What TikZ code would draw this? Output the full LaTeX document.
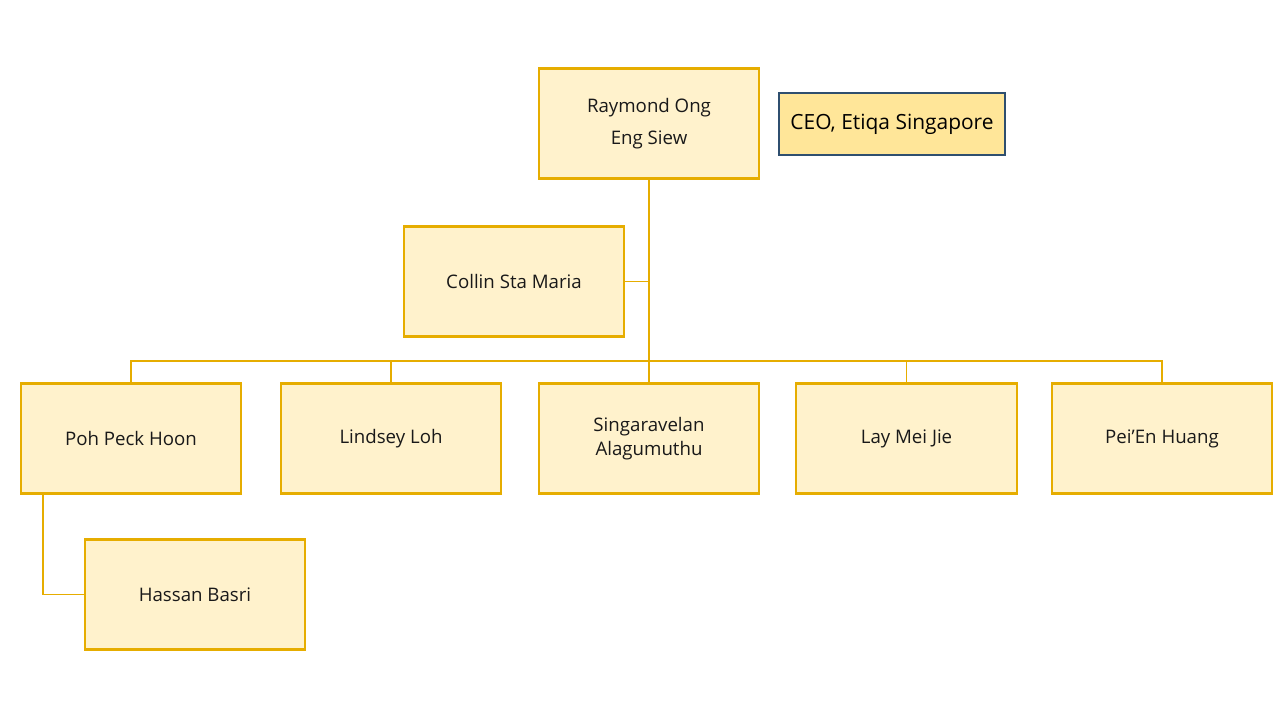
\documentclass[tikz,border=0pt]{standalone}
\usepackage{fontspec}
\setmainfont{Open Sans}
\definecolor{gold}{HTML}{E6AD00}
\definecolor{boxfill}{HTML}{FFF2CC}
\definecolor{ceofill}{HTML}{FFE699}
\definecolor{ceoline}{HTML}{2F4F6F}
\begin{document}
\begin{tikzpicture}[x=0.75pt,y=-0.75pt,
  person/.style={draw=gold,fill=boxfill,line width=1.7pt,minimum width=165.5pt,minimum height=82.5pt,
    inner sep=0pt,align=center,font=\fontsize{14}{18.5}\selectfont,text=black!90},
  title/.style={draw=ceoline,fill=ceofill,line width=1.4pt,minimum width=170pt,minimum height=47pt,
    inner sep=0pt,align=center,font=\fontsize{15.7}{18}\selectfont},
  link/.style={draw=gold,line width=0.8pt}]
\useasboundingbox (0,0) rectangle (1280,720);
\node[person] (ray) at (649,123.5) {Raymond Ong\\[5pt]Eng Siew};
\node[title] (ceo) at (892,124) {CEO, Etiqa Singapore};
\node[person] (collin) at (514,281.5) {Collin Sta Maria};
\node[person] (poh) at (131,438.5) {Poh Peck Hoon};
\node[person] (lindsey) at (391,438.5) {Lindsey Loh};
\node[person] (singa) at (649,438.5) {Singaravelan\\Alagumuthu};
\node[person] (lay) at (906.5,438.5) {Lay Mei Jie};
\node[person] (pei) at (1162,438.5) {Pei’En Huang};
\node[person] (hassan) at (195,594.5) {Hassan Basri};
\coordinate (bus) at (649,361);
\coordinate (pohdrop) at (43,494);
\draw[link] (ray.south) -- (singa.north);
\draw[link] (collin.east) -- (collin.east -| ray.south);
\draw[link] (poh.north) |- (bus);
\draw[link] (lindsey.north) |- (bus);
\draw[link] (lay.north) |- (bus);
\draw[link] (pei.north) |- (bus);
\draw[link] (pohdrop) |- (hassan.west);
\end{tikzpicture}
\end{document}
